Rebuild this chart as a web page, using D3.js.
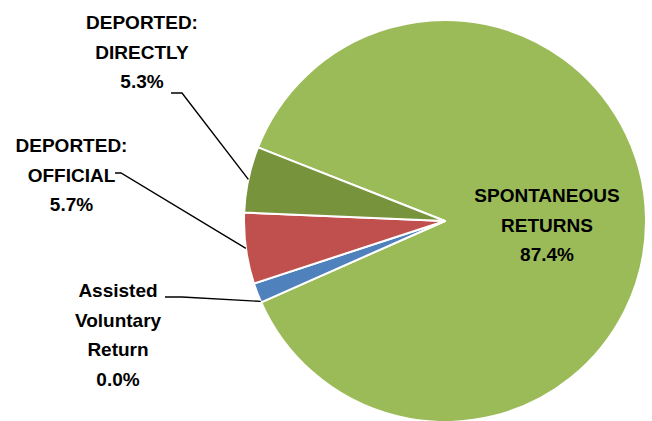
<!DOCTYPE html>
<html>
<head>
<meta charset="utf-8">
<script src="https://cdn.jsdelivr.net/npm/d3@7"></script>
<style>
  html, body { margin: 0; padding: 0; background: #fff; }
  svg { display: block; }
  .lbl { font-family: "Liberation Sans", Arial, sans-serif; font-weight: bold; font-size: 19px; fill: #000; }
</style>
</head>
<body>
<svg id="chart" width="652" height="421"></svg>
<script>
// slices, clockwise from the spontaneous slice
const categories = ['SPONTANEOUS RETURNS', 'Assisted Voluntary Return', 'DEPORTED: OFFICIAL', 'DEPORTED: DIRECTLY']
const labelLines = [
  ['SPONTANEOUS', 'RETURNS'],
  ['Assisted', 'Voluntary', 'Return'],
  ['DEPORTED:', 'OFFICIAL'],
  ['DEPORTED:', 'DIRECTLY'],
]
const values = [87.4, 1.6, 5.7, 5.3]
const pctLabels = ['87.4%', '0.0%', '5.7%', '5.3%']
const colors = ['#9BBB59', '#4F81BD', '#C0504D', '#77933C']

const width = 652
const height = 421
const cx = 445
const cy = 221
const radius = 201
const lineH = 29.5

// label placement: centre x, first baseline, leader start, elbow, where on slice the leader ends
const labelLayout = [
  { x: 547, y: 202, leader: null },
  { x: 118, y: 297, leader: { from: [165, 297], elbow: [182, 297], t: 0.0 } },
  { x: 71.5, y: 152, leader: { from: [115, 173], elbow: [121, 173], t: 0.5 } },
  { x: 142, y: 29, leader: { from: [171, 93], elbow: [182, 93], t: 0.5 } },
]

const svg = d3.select('#chart')

const start = 291.5 * Math.PI / 180

const pie = d3.pie()
    .sort(null)
    .value(d => d)
    .startAngle(start)
    .endAngle(start + 2 * Math.PI)

const arcs = pie(values)

const arc = d3.arc()
    .innerRadius(0)
    .outerRadius(radius)

const g = svg.append('g')
    .attr('transform', `translate(${cx},${cy})`)

g.selectAll('path.slice')
  .data(arcs)
  .join('path')
    .attr('class', 'slice')
    .attr('d', arc)
    .attr('fill', (d, i) => colors[i])
    .attr('stroke', '#fff')
    .attr('stroke-width', 2)
    .attr('stroke-linejoin', 'round')

// leader lines
arcs.forEach((d, i) => {
  const lay = labelLayout[i].leader
  if (!lay)
    return
  const a = d.startAngle + (d.endAngle - d.startAngle) * lay.t + (lay.t === 0 ? 0.005 : 0)
  const end = [cx + radius * Math.sin(a), cy - radius * Math.cos(a)]
  svg.append('path')
      .attr('d', d3.line()([lay.from, lay.elbow, end]))
      .attr('fill', 'none')
      .attr('stroke', '#000')
      .attr('stroke-width', 1.4)
})

// labels
labelLayout.forEach((lay, i) => {
  const lines = labelLines[i].concat([pctLabels[i]])
  const t = svg.append('text')
      .attr('class', 'lbl')
      .attr('text-anchor', 'middle')
  lines.forEach((s, k) => {
    t.append('tspan')
        .attr('x', lay.x)
        .attr('y', lay.y + k * lineH)
        .text(s)
  })
})
</script>
</body>
</html>
